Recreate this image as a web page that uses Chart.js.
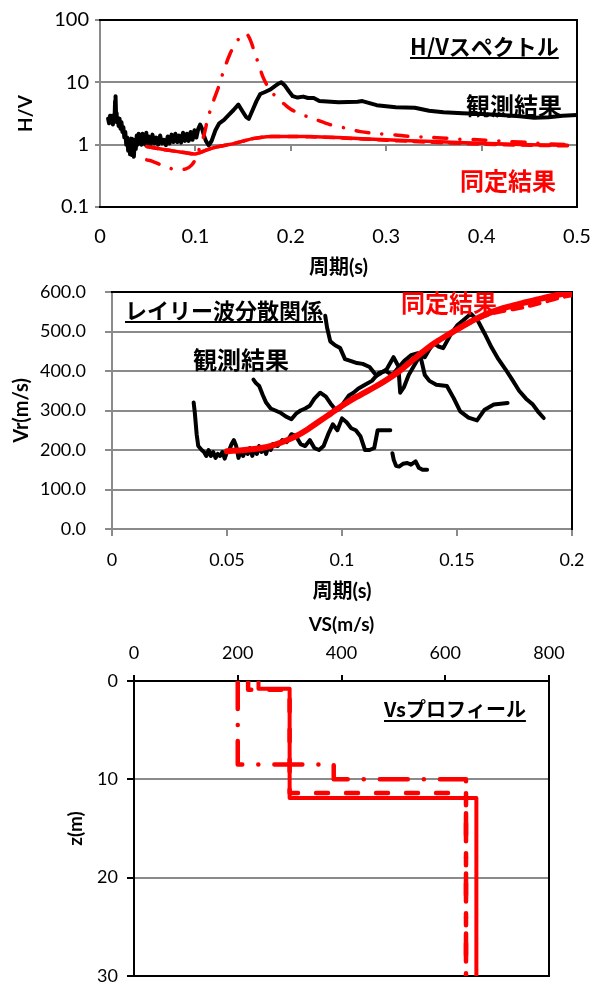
<!DOCTYPE html>
<html><head><meta charset="utf-8">
<script src="https://cdn.jsdelivr.net/npm/chart.js@4/dist/chart.umd.min.js"></script>
<style>
html,body{margin:0;padding:0;background:#fff;overflow:hidden;width:599px;height:987px;position:relative;}
canvas{position:absolute;left:0;}
</style></head><body>
<canvas id="c1" width="599" height="285" style="top:0px"></canvas>
<canvas id="c2" width="599" height="350" style="top:260px"></canvas>
<canvas id="c3" width="599" height="398" style="top:600px"></canvas>
<script>
// ---------- H/V spectrum ----------
const hvTicksY = [0.1, 1, 10, 100];
const hvObsPeriod = [0.0085,0.0095,0.0105,0.0115,0.0125,0.0135,0.0145,0.0152,0.0158,0.0163,0.0168,0.0175,0.0185,0.0195,0.0205,0.0215,0.0225,0.0235,0.0245,0.0255,0.0265,0.0275,0.0285,0.0295,0.0305,0.0315,0.0325,0.0335,0.0345,0.0355,0.0365,0.0375,0.0385,0.0395,0.0405,0.0415,0.0425,0.0435,0.0445,0.0455,0.0465,0.0475,0.0485,0.0495,0.051,0.053,0.055,0.057,0.059,0.061,0.063,0.065,0.067,0.069,0.071,0.073,0.075,0.077,0.079,0.081,0.083,0.085,0.087,0.089,0.091,0.093,0.095,0.097,0.099,0.101,0.103,0.105,0.107,0.109,0.111,0.114,0.117,0.121,0.125,0.13,0.135,0.14,0.145,0.149,0.153,0.156,0.16,0.164,0.168,0.173,0.178,0.183,0.187,0.19,0.194,0.198,0.202,0.207,0.213,0.218,0.224,0.23,0.25,0.27,0.275,0.29,0.31,0.33,0.345,0.36,0.38,0.4,0.42,0.44,0.455,0.47,0.485,0.5];
const hvObsRatio = [2.6,2.2,2.9,2.3,2.7,2.1,3.0,2.4,5.0,6.0,3.2,2.3,2.7,2.0,2.6,1.8,2.3,1.6,1.9,1.3,1.6,1.0,1.3,0.8,1.2,0.7,1.25,0.68,1.1,0.64,1.2,0.85,1.4,1.0,1.5,1.1,1.35,1.0,1.5,1.05,1.4,1.0,1.55,1.05,1.35,1.0,1.45,1.05,1.3,1.0,1.4,1.05,1.2,0.98,1.35,1.05,1.45,1.1,1.5,1.1,1.4,1.08,1.55,1.15,1.5,1.15,1.6,1.2,1.7,1.3,1.8,2.1,1.8,1.4,1.15,0.97,1.15,1.7,2.2,2.5,3.0,3.6,4.4,3.5,2.8,2.6,3.6,5.0,6.5,7.0,7.6,8.6,9.5,10.0,8.8,7.2,6.0,5.7,5.9,5.6,5.6,5.0,4.8,4.9,5.0,4.3,4.0,3.9,3.5,3.3,3.2,3.1,3.0,2.85,2.7,2.75,2.9,3.0];
const hvFitPeriod = [0.049,0.06,0.07,0.08,0.09,0.1,0.11,0.12,0.13,0.14,0.15,0.16,0.17,0.18,0.2,0.22,0.25,0.3,0.35,0.4,0.45,0.49];
const hvFitSolid  = [0.93,0.87,0.82,0.78,0.74,0.71,0.8,0.9,0.97,1.04,1.14,1.25,1.32,1.35,1.35,1.35,1.3,1.2,1.12,1.05,1.0,0.98];
const hvFitDashed = [0.93,0.87,0.82,0.78,0.74,0.71,0.8,0.9,0.97,1.04,1.14,1.25,1.32,1.35,1.35,1.34,1.29,1.18,1.09,1.02,0.98,0.96];
const hvDashDotPeriod = [0.049,0.055,0.063,0.07,0.08,0.09,0.096,0.101,0.105,0.109,0.113,0.118,0.124,0.13,0.136,0.142,0.148,0.153,0.157,0.161,0.166,0.171,0.176,0.18,0.186,0.193,0.2,0.21,0.224,0.241,0.257,0.273,0.292,0.31,0.323,0.343,0.363,0.377,0.396,0.417,0.431,0.45,0.47,0.49];
const hvFitDashDot = [0.57,0.54,0.48,0.44,0.39,0.41,0.47,0.62,0.95,1.43,2.6,4.6,8.2,16,28,42,55,61,50,34,20,12,8.5,7.0,5.5,4.5,3.7,3.1,2.6,2.1,1.85,1.62,1.5,1.43,1.36,1.32,1.27,1.22,1.2,1.15,1.12,1.08,1.03,1.0];

// ---------- Rayleigh dispersion ----------
const vrObsPeriod1 = [0.0355,0.036,0.0368,0.0375,0.039,0.040,0.041,0.042,0.043,0.044,0.045,0.046,0.047,0.048,0.049,0.050,0.051,0.052,0.053,0.054,0.055,0.056,0.057,0.058,0.059,0.060,0.061,0.062,0.063,0.064,0.065,0.066,0.067,0.068,0.069,0.070,0.072,0.074,0.076,0.078,0.080,0.082,0.084,0.086,0.088,0.090,0.092,0.094,0.096,0.098,0.100,0.102,0.104,0.106,0.108,0.110,0.112,0.114,0.1155,0.118,0.121];
const vrObsVel1 = [320,295,240,210,200,195,185,200,185,195,180,190,185,195,178,195,200,215,225,210,180,200,185,200,190,205,185,205,190,210,195,205,190,210,200,215,210,225,220,240,235,215,210,225,205,200,210,240,265,250,280,270,255,250,235,200,200,205,250,250,250];
const vrObsPeriod2 = [0.0615,0.0625,0.064,0.0655,0.067,0.069,0.071,0.073,0.0755,0.078,0.080,0.082,0.084,0.086,0.088,0.0905,0.093,0.095,0.0975,0.099,0.101,0.103,0.105,0.107,0.110,0.113,0.116,0.119,0.122,0.124,0.127,0.130,0.133,0.136,0.138,0.140,0.142,0.144,0.147,0.150,0.153,0.156,0.159,0.162,0.165,0.168,0.171,0.174,0.177,0.180,0.183,0.1855,0.1877];
const vrObsVel2 = [378,370,362,340,320,305,300,295,285,278,292,300,305,312,330,345,335,318,300,305,322,338,345,355,365,375,395,400,390,405,425,440,445,435,455,470,462,458,490,515,530,545,528,495,460,430,405,378,350,330,315,295,281];
const vrObsPeriod3 = [0.0927,0.0935,0.0949,0.097,0.0992,0.1013,0.104,0.1065,0.109,0.112,0.115,0.117,0.1195,0.1224,0.1245,0.1253,0.127,0.129,0.131,0.134,0.136,0.138,0.141,0.1456,0.1485,0.1514,0.155,0.1587,0.162,0.166,0.172];
const vrObsVel3 = [540,510,475,465,458,430,425,420,418,410,388,395,405,435,412,345,360,390,410,440,390,375,365,362,332,298,282,275,302,315,319];
const vrObsPeriod4 = [0.1219,0.1225,0.1235,0.1248,0.1265,0.1284,0.130,0.132,0.1334,0.135,0.137];
const vrObsVel4 = [192,175,160,158,165,167,163,171,155,150,150];
const vrFitPeriod = [0.05,0.055,0.06,0.065,0.07,0.075,0.08,0.085,0.09,0.095,0.1,0.105,0.11,0.115,0.12,0.125,0.13,0.135,0.14,0.145,0.15,0.155,0.16,0.165,0.17,0.175,0.18,0.185,0.19,0.195,0.2];
const vrFitSolid  = [197,199,201,205,212,222,235,252,272,292,312,330,346,362,380,400,424,448,470,488,505,522,537,549,559,567,574,581,588,594,598];
const vrFitDashed = [197,199,201,205,212,222,235,252,272,292,312,330,346,362,380,400,424,448,470,488,505,520,534,545,552,557,563,570,578,586,592];

// ---------- Vs profile ----------
const vsSolidVs = [240,240,300,300,660,660];
const vsSolidZ  = [0,0.8,0.8,11.9,11.9,30];
const vsDashedVs = [220,220,300,300,640,640];
const vsDashedZ  = [0,0.9,0.9,11.4,11.4,30];
const vsDashDotVs = [200,200,385,385,640,640];
const vsDashDotZ  = [0,8.5,8.5,10,10,30];

const GRAY = '#8a8a8a', RED = '#ff0000', BLACK = '#000000';
const LAT = 'Lato, "Noto Sans CJK JP", sans-serif';
const JP = '"Noto Sans CJK JP", sans-serif';
Chart.defaults.font.family = LAT;
Chart.defaults.color = '#000';

function series(xs, ys, color, width, dash, tension) {
  return { data: xs.map((x, i) => ({x: x, y: ys[i]})), borderColor: color, backgroundColor: color,
    borderWidth: width, borderDash: dash || [], pointRadius: 0, tension: tension || 0, fill: false,
    borderCapStyle: 'round', borderJoinStyle: 'round', xAxisID: 'x', yAxisID: 'y' };
}

const framePlugin = {
  id: 'frame',
  beforeDatasetsDraw(chart, args, opts) {
    const {ctx, chartArea: a} = chart;
    ctx.save(); ctx.strokeStyle = '#000'; ctx.lineWidth = 2; ctx.lineCap = 'square';
    ctx.beginPath();
    (opts.sides || []).forEach(s => {
      if (s === 'top') { ctx.moveTo(a.left, a.top); ctx.lineTo(a.right, a.top); }
      if (s === 'bottom') { ctx.moveTo(a.left, a.bottom); ctx.lineTo(a.right, a.bottom); }
      if (s === 'left') { ctx.moveTo(a.left, a.top); ctx.lineTo(a.left, a.bottom); }
      if (s === 'right') { ctx.moveTo(a.right, a.top); ctx.lineTo(a.right, a.bottom); }
    });
    ctx.stroke(); ctx.restore();
  }
};
const notesPlugin = {
  id: 'notes',
  afterDatasetsDraw(chart, args, opts) {
    const ctx = chart.ctx;
    (opts.items || []).forEach(it => {
      ctx.save();
      ctx.font = it.font; ctx.fillStyle = it.color; ctx.textBaseline = 'middle'; ctx.textAlign = 'left';
      ctx.fillText(it.text, it.x, it.y);
      if (it.underline) {
        const w = ctx.measureText(it.text).width;
        ctx.strokeStyle = it.color; ctx.lineWidth = 2;
        ctx.beginPath(); ctx.moveTo(it.x, it.underline); ctx.lineTo(it.x + w, it.underline); ctx.stroke();
      }
      ctx.restore();
    });
  }
};
const fmt = v => String(Math.round(v * 1000) / 1000);

// ---------- Chart 1 ----------
new Chart(document.getElementById('c1'), {
  type: 'line',
  data: { datasets: [
    series(hvFitPeriod, hvFitSolid, RED, 3.5, [], 0.3),
    series(hvFitPeriod, hvFitDashed, RED, 3.5, [10, 8], 0.3),
    series(hvDashDotPeriod, hvFitDashDot, RED, 3.5, [13, 13, 0.1, 13], 0.3),
    series(hvObsPeriod, hvObsRatio, BLACK, 4, [], 0)
  ]},
  options: {
    responsive: false, animation: false, devicePixelRatio: 1,
    layout: { padding: {top: 20, right: 22, left: 0, bottom: 0} },
    plugins: { legend: {display: false}, tooltip: {enabled: false},
      frame: { sides: ['top', 'right', 'bottom'] },
      notes: { items: [
        {text: 'H/Vスペクトル', x: 410, y: 47, font: '700 22px ' + JP, color: BLACK, underline: 58},
        {text: '観測結果', x: 466, y: 106, font: '700 24px ' + JP, color: BLACK},
        {text: '同定結果', x: 460, y: 181, font: '700 24px ' + JP, color: RED}
      ]}
    },
    scales: {
      x: { type: 'linear', position: 'bottom', min: 0, max: 0.5,
        ticks: { stepSize: 0.1, callback: fmt, font: {size: 20}, padding: 0, maxRotation: 0 },
        grid: { display: false, drawTicks: true, tickLength: 18 }, border: { display: false },
        title: { display: true, text: '周期(s)', font: {size: 20, weight: 'bold'}, padding: {top: 0, bottom: 5} },
        afterFit: s => { s.height = 78; } },
      x2: { type: 'linear', position: {y: 1}, min: 0, max: 0.5,
        ticks: { display: false, stepSize: 0.1 },
        grid: { drawOnChartArea: false, drawTicks: true, tickLength: 6, color: GRAY, lineWidth: 2 },
        border: { display: false }, afterFit: s => { s.height = 0; } },
      y: { type: 'logarithmic', min: 0.1, max: 100,
        afterBuildTicks: s => { s.ticks = hvTicksY.map(v => ({value: v})); },
        ticks: { callback: v => String(v), font: {size: 20}, padding: 6 },
        grid: { color: GRAY, lineWidth: 2, tickLength: 5, tickColor: GRAY },
        border: { color: GRAY, width: 2 },
        title: { display: true, text: 'H/V', font: {size: 19, weight: 'bold'}, padding: {top: 14, bottom: 0} },
        afterFit: s => { s.width = 100; } }
    }
  },
  plugins: [framePlugin, notesPlugin]
});

// ---------- Chart 2 ----------
new Chart(document.getElementById('c2'), {
  type: 'line',
  data: { datasets: [
    series(vrFitPeriod, vrFitSolid, RED, 6, [], 0.3),
    series(vrFitPeriod, vrFitDashed, RED, 4, [10, 8], 0.3),
    series(vrObsPeriod1, vrObsVel1, BLACK, 4, [], 0),
    series(vrObsPeriod2, vrObsVel2, BLACK, 4, [], 0),
    series(vrObsPeriod3, vrObsVel3, BLACK, 4, [], 0),
    series(vrObsPeriod4, vrObsVel4, BLACK, 4, [], 0)
  ]},
  options: {
    responsive: false, animation: false, devicePixelRatio: 1,
    layout: { padding: {top: 32, right: 27, left: 0, bottom: 0} },
    plugins: { legend: {display: false}, tooltip: {enabled: false},
      frame: { sides: ['top', 'right'] },
      notes: { items: [
        {text: 'レイリー波分散関係', x: 125, y: 51, font: '700 22px ' + JP, color: BLACK, underline: 62},
        {text: '観測結果', x: 193, y: 100, font: '700 24px ' + JP, color: BLACK},
        {text: '同定結果', x: 401, y: 43, font: '700 24px ' + JP, color: RED}
      ]}
    },
    scales: {
      x: { type: 'linear', position: 'bottom', min: 0, max: 0.2,
        ticks: { stepSize: 0.05, callback: fmt, font: {size: 18}, padding: 13, maxRotation: 0 },
        grid: { drawOnChartArea: false, drawTicks: true, tickLength: 7, color: GRAY, lineWidth: 2 },
        border: { color: GRAY, width: 2 },
        title: { display: true, text: '周期(s)', font: {size: 20, weight: 'bold'}, padding: {top: 0, bottom: 6} },
        afterFit: s => { s.height = 81; } },
      y: { type: 'linear', min: 0, max: 600,
        ticks: { stepSize: 100, callback: v => v.toFixed(1), font: {size: 18}, padding: 19 },
        grid: { color: GRAY, lineWidth: 2, tickLength: 7, tickColor: GRAY },
        border: { color: GRAY, width: 2 },
        title: { display: true, text: 'Vr(m/s)', font: {size: 20, weight: 'bold'}, padding: {top: 10, bottom: 0} },
        afterFit: s => { s.width = 112; } }
    }
  },
  plugins: [framePlugin, notesPlugin]
});

// ---------- Chart 3 ----------
new Chart(document.getElementById('c3'), {
  type: 'line',
  data: { datasets: [
    series(vsSolidVs, vsSolidZ, RED, 4, [], 0),
    series(vsDashedVs, vsDashedZ, RED, 4.5, [12, 18], 0),
    series(vsDashDotVs, vsDashDotZ, RED, 4.5, [28, 16, 0.1, 16], 0)
  ]},
  options: {
    responsive: false, animation: false, devicePixelRatio: 1,
    layout: { padding: {top: 0, right: 50, left: 0, bottom: 22} },
    plugins: { legend: {display: false}, tooltip: {enabled: false},
      frame: { sides: ['top', 'right', 'bottom', 'left'] },
      notes: { items: [
        {text: 'Vsプロフィール', x: 384, y: 109, font: '700 20px ' + JP, color: BLACK, underline: 121}
      ]}
    },
    scales: {
      x: { type: 'linear', position: 'top', min: 0, max: 800,
        ticks: { stepSize: 200, font: {size: 18}, padding: 11, maxRotation: 0 },
        grid: { drawOnChartArea: false, drawTicks: true, tickLength: 6, color: BLACK, lineWidth: 2 },
        border: { color: BLACK, width: 2 },
        title: { display: true, text: 'VS(m/s)', font: {size: 19, weight: 'bold'}, padding: {top: 13, bottom: 0} },
        afterFit: s => { s.height = 81; } },
      y: { type: 'linear', reverse: true, min: 0, max: 30,
        ticks: { stepSize: 10, font: {size: 18}, padding: 9 },
        grid: { color: GRAY, lineWidth: 2, tickLength: 7, tickColor: BLACK },
        border: { color: BLACK, width: 2 },
        title: { display: true, text: 'z(m)', font: {size: 19, weight: 'bold'}, padding: {top: 64, bottom: 0} },
        afterFit: s => { s.width = 134; } }
    }
  },
  plugins: [framePlugin, notesPlugin]
});
</script>
</body></html>
